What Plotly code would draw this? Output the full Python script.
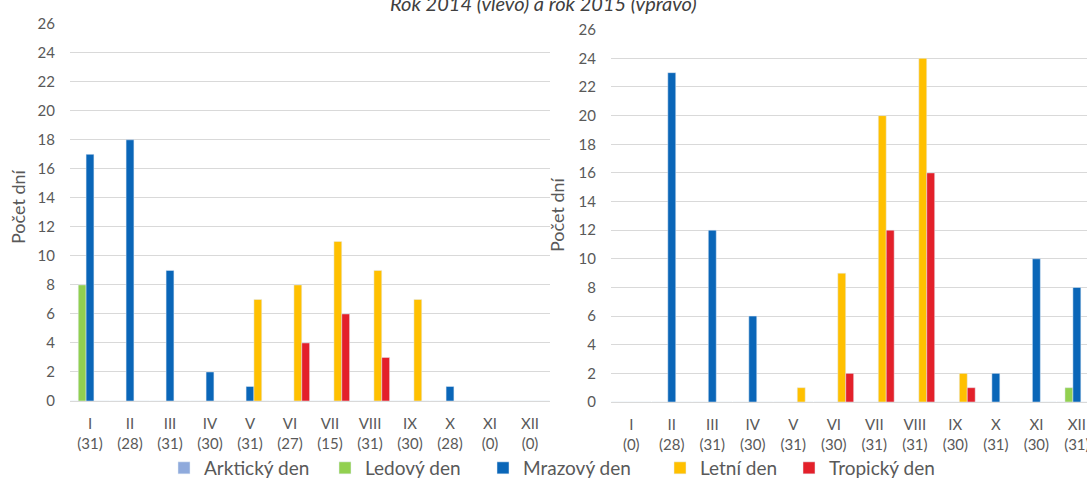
import plotly.graph_objects as go

months = ["I", "II", "III", "IV", "V", "VI", "VII", "VIII", "IX", "X", "XI", "XII"]
days_2014 = [31, 28, 31, 30, 31, 27, 15, 31, 30, 28, 0, 0]
days_2015 = [0, 28, 31, 30, 31, 30, 31, 31, 30, 31, 30, 31]

series_names = ["Arktický den", "Ledový den", "Mrazový den", "Letní den", "Tropický den"]
series_colors = ["#8FAADC", "#92D050", "#0A66B8", "#FFC000", "#E3202A"]

arkticky_2014 = [0, 0, 0, 0, 0, 0, 0, 0, 0, 0, 0, 0]
ledovy_2014 = [8, 0, 0, 0, 0, 0, 0, 0, 0, 0, 0, 0]
mrazovy_2014 = [17, 18, 9, 2, 1, 0, 0, 0, 0, 1, 0, 0]
letni_2014 = [0, 0, 0, 0, 7, 8, 11, 9, 7, 0, 0, 0]
tropicky_2014 = [0, 0, 0, 0, 0, 4, 6, 3, 0, 0, 0, 0]

arkticky_2015 = [0, 0, 0, 0, 0, 0, 0, 0, 0, 0, 0, 0]
ledovy_2015 = [0, 0, 0, 0, 0, 0, 0, 0, 0, 0, 0, 1]
mrazovy_2015 = [0, 23, 12, 6, 0, 0, 0, 0, 0, 2, 10, 8]
letni_2015 = [0, 0, 0, 0, 1, 9, 20, 24, 2, 0, 0, 0]
tropicky_2015 = [0, 0, 0, 0, 0, 2, 12, 16, 1, 0, 0, 0]

title_text = "Rok 2014 (vlevo) a rok 2015 (vpravo)"
y_title = "Počet dní"

FONT = "Lato, Carlito, 'Open Sans', sans-serif"
TXT = "#595959"
W, H = 1087, 492

labels_2014 = [f"{m}<br>({d})" for m, d in zip(months, days_2014)]
labels_2015 = [f"{m}<br>({d})" for m, d in zip(months, days_2015)]

data_2014 = [arkticky_2014, ledovy_2014, mrazovy_2014, letni_2014, tropicky_2014]
data_2015 = [arkticky_2015, ledovy_2015, mrazovy_2015, letni_2015, tropicky_2015]

legend_ids = ["legend", "legend2", "legend3", "legend4", "legend5"]
legend_marker_px = [178, 339, 497, 674, 803]

fig = go.Figure()
for name, color, vals, lid in zip(series_names, series_colors, data_2014, legend_ids):
    fig.add_trace(go.Bar(x=labels_2014, y=vals, name=name, marker_color=color,
                         xaxis="x", yaxis="y", legendgroup=name, showlegend=True,
                         legend=lid))
for name, color, vals in zip(series_names, series_colors, data_2015):
    fig.add_trace(go.Bar(x=labels_2015, y=vals, name=name, marker_color=color,
                         xaxis="x2", yaxis="y2", legendgroup=name, showlegend=False))

grid = dict(showgrid=True, gridcolor="#D9D9D9", gridwidth=1.3, zeroline=True,
            zerolinecolor="#D9D9D9", zerolinewidth=1.3, dtick=2, range=[0, 26.05],
            tickfont=dict(family=FONT, size=15, color=TXT), ticklabelstandoff=14,
            fixedrange=True)
xcommon = dict(showgrid=False, zeroline=False, showline=False, ticks="",
               tickfont=dict(family=FONT, size=15, color=TXT), ticklabelstandoff=12,
               tickangle=0, type="category")

layout_legends = {}
for lid, px in zip(legend_ids, legend_marker_px):
    layout_legends[lid] = dict(orientation="h", x=(px - 14) / W, xanchor="left",
                               y=(H - 468) / H, yanchor="middle",
                               font=dict(family=FONT, size=19, color=TXT),
                               bgcolor="rgba(0,0,0,0)")

fig.update_layout(
    width=W, height=H,
    margin=dict(l=0, r=0, t=0, b=0, autoexpand=False),
    paper_bgcolor="white", plot_bgcolor="white",
    barmode="group", bargap=0.02, bargroupgap=0,
    font=dict(family=FONT, color=TXT),
    xaxis=dict(domain=[70 / W, 550 / W], range=[-0.5, 11.5], anchor="y", **xcommon),
    yaxis=dict(domain=[(H - 401) / H, (H - 23) / H], anchor="x", **grid),
    xaxis2=dict(domain=[611 / W, 1.0], range=[-0.5, 11.25], anchor="y2", **xcommon),
    yaxis2=dict(domain=[(H - 402) / H, (H - 29) / H], anchor="x2", **grid),
    showlegend=True,
    **layout_legends,
)

fig.add_annotation(text=title_text, xref="paper", yref="paper", x=0.5, y=1 - 3 / H,
                   xanchor="center", yanchor="middle", showarrow=False,
                   font=dict(family=FONT, size=20, color="#404040", style="italic"))
fig.add_annotation(text=y_title, xref="paper", yref="paper", x=18 / W, y=(H - 207) / H,
                   xanchor="center", yanchor="middle", showarrow=False, textangle=-90,
                   font=dict(family=FONT, size=18, color=TXT))
fig.add_annotation(text=y_title, xref="paper", yref="paper", x=557 / W, y=(H - 215) / H,
                   xanchor="center", yanchor="middle", showarrow=False, textangle=-90,
                   font=dict(family=FONT, size=18, color=TXT))

fig.write_html("out.html", config={"displayModeBar": False},
               post_script="document.body.style.margin='0';")
